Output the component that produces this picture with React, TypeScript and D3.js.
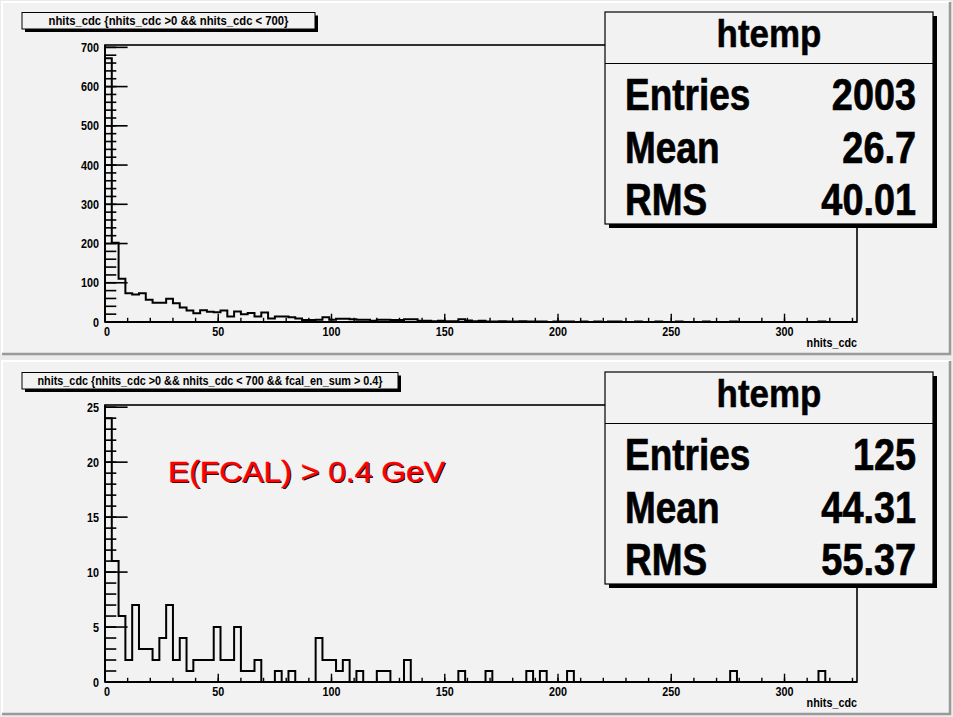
import React from 'react';
import * as d3 from 'd3';

const BIN_WIDTH = 3;
const X_MAX = 332;

// top histogram: nhits_cdc with 0 < nhits_cdc < 700 (bin width 3)
const topCounts = [
  672, 202, 110, 73, 70, 73, 57, 49, 49, 59,
  48, 37, 29, 22, 30, 26, 25, 29, 14, 27,
  20, 23, 14, 24, 9, 14, 14, 12, 9, 5,
  5, 6, 12, 6, 8, 8, 7, 6, 6, 3,
  6, 6, 5, 5, 7, 7, 3, 3, 2, 3,
  2, 2, 7, 4, 2, 3, 1, 1, 2, 1,
  1, 2, 1, 1, 1, 0, 1, 1, 1, 0,
  1, 0, 1, 0, 1, 1, 0, 0, 1, 0,
  0, 1, 0, 0, 1, 0, 0, 0, 1, 0,
  0, 0, 1, 0, 0, 0, 0, 0, 0, 0,
  0, 0, 0, 0, 0, 1, 0, 0, 0, 0,
];

// bottom histogram: same selection with fcal_en_sum > 0.4
const bottomCounts = [
  24, 11, 6, 2, 7, 3, 3, 2, 4, 7,
  2, 4, 1, 2, 2, 2, 5, 2, 2, 5,
  1, 1, 2, 0, 0, 1, 0, 1, 0, 0,
  0, 4, 2, 2, 1, 2, 0, 1, 0, 0,
  1, 1, 0, 0, 2, 0, 0, 0, 0, 0,
  0, 0, 1, 0, 0, 0, 1, 0, 0, 0,
  0, 0, 1, 0, 1, 0, 0, 0, 1, 0,
  0, 0, 0, 0, 0, 0, 0, 0, 0, 0,
  0, 0, 0, 0, 0, 0, 0, 0, 0, 0,
  0, 0, 1, 0, 0, 0, 0, 0, 0, 0,
  0, 0, 0, 0, 0, 1, 0, 0, 0, 0,
];

const xMajorTicks = [0, 50, 100, 150, 200, 250, 300];
const xMinorStep = 10;
const topYTicks = [0, 100, 200, 300, 400, 500, 600, 700];
const topYMinorStep = 20;
const topYMax = 706;
const bottomYTicks = [0, 5, 10, 15, 20, 25];
const bottomYMinorStep = 1;
const bottomYMax = 25.2;

const topTitle = 'nhits_cdc {nhits_cdc >0 && nhits_cdc < 700}';
const bottomTitle = 'nhits_cdc {nhits_cdc >0 && nhits_cdc < 700 && fcal_en_sum > 0.4}';
const xAxisTitle = 'nhits_cdc';
const statsName = 'htemp';
const statLabels = ['Entries', 'Mean', 'RMS'];
const topStatValues = ['2003', '26.7', '40.01'];
const bottomStatValues = ['125', '44.31', '55.37'];
const annotation = 'E(FCAL) > 0.4 GeV';

const FONT = "'Liberation Sans', Arial, Helvetica, sans-serif";

type PanelProps = {
  off: number;
  counts: number[];
  yMax: number;
  yTicks: number[];
  yMinorStep: number;
  title: string;
  titleBoxW: number;
  titleTextLen: number;
  statValues: string[];
  note?: string;
};

function Panel({ off, counts, yMax, yTicks, yMinorStep, title, titleBoxW, titleTextLen, statValues, note }: PanelProps) {
  const fx0 = 105, fx1 = 857, fy0 = 45 + off, fy1 = 322 + off;
  const x = d3.scaleLinear().domain([0, X_MAX]).range([fx0, fx1]);
  const y = d3.scaleLinear().domain([0, yMax]).range([fy1, fy0]);

  const pts: [number, number][] = [[0, 0]];
  counts.forEach((c, i) => {
    pts.push([i * BIN_WIDTH, c]);
    pts.push([Math.min((i + 1) * BIN_WIDTH, X_MAX), c]);
  });
  pts.push([Math.min(counts.length * BIN_WIDTH, X_MAX), 0]);
  pts.push([X_MAX, 0]);
  const line = d3.line<[number, number]>().x(d => x(d[0])).y(d => y(d[1]));

  const yMinor: number[] = [];
  for (let v = 0; v <= yMax + 1e-9; v += yMinorStep) yMinor.push(+v.toFixed(6));
  const xMinor: number[] = [];
  for (let v = 0; v <= X_MAX; v += xMinorStep) xMinor.push(v);

  const yMajLen = 22.6, yMinLen = 11.3, xMajLen = 8.3, xMinLen = 4.2;
  const tb = { x: 22, y: 12.5 + off, h: 16.5 };
  const sb = { x: 605, y: 12 + off, w: 328, h: 212 };
  const rowY = [110, 163.3, 215];
  const lbl = { fontSize: 12, fontWeight: 'bold' as const, fontFamily: FONT };

  return (
    <g>
      {/* frame */}
      <rect x={fx0} y={fy0} width={fx1 - fx0} height={fy1 - fy0} fill="none" stroke="#000" strokeWidth={1.6} />
      {/* histogram */}
      <path d={line(pts) || ''} fill="none" stroke="#000" strokeWidth={2} />
      {/* y axis */}
      <line x1={fx0} x2={fx0} y1={fy0} y2={fy1} stroke="#000" strokeWidth={1.8} />
      {yMinor.map(v => (
        <line key={'ym' + v} x1={fx0} x2={fx0 + yMinLen} y1={y(v)} y2={y(v)} stroke="#000" strokeWidth={1.6} />
      ))}
      {yTicks.map(v => (
        <g key={'yt' + v}>
          <line x1={fx0} x2={fx0 + yMajLen} y1={y(v)} y2={y(v)} stroke="#000" strokeWidth={1.6} />
          <text transform={`translate(${fx0 - 6} ${y(v) + 4.5}) scale(0.9 1)`} textAnchor="end" {...lbl}>{v}</text>
        </g>
      ))}
      {/* x axis */}
      <line x1={fx0} x2={fx1} y1={fy1} y2={fy1} stroke="#000" strokeWidth={1.8} />
      {xMinor.map(v => (
        <line key={'xm' + v} x1={x(v)} x2={x(v)} y1={fy1} y2={fy1 - xMinLen} stroke="#000" strokeWidth={1.4} />
      ))}
      {xMajorTicks.map(v => (
        <g key={'xt' + v}>
          <line x1={x(v)} x2={x(v)} y1={fy1} y2={fy1 - xMajLen} stroke="#000" strokeWidth={1.4} />
          <text transform={`translate(${x(v) + (v === 0 ? 2 : 0)} ${fy1 + 13.5}) scale(0.9 1)`} textAnchor="middle" {...lbl}>{v}</text>
        </g>
      ))}
      <text transform={`translate(${fx1} ${off + 346.5}) scale(0.9 1)`} textAnchor="end" {...lbl}>{xAxisTitle}</text>

      {note && (
        <g fontFamily={FONT} fontSize={30}>
          <text x={169.2} y={481.7 - 360 + off + 1.2} textLength={277} lengthAdjust="spacingAndGlyphs" fill="#000">{note}</text>
          <text x={168} y={481.7 - 360 + off} textLength={277} lengthAdjust="spacingAndGlyphs" fill="#ff0000" stroke="#ff0000" strokeWidth={0.4}>{note}</text>
        </g>
      )}

      {/* title box */}
      <rect x={tb.x + 3} y={tb.y + 3} width={titleBoxW} height={tb.h} fill="#000" />
      <rect x={tb.x} y={tb.y} width={titleBoxW} height={tb.h} fill="#f2f2f2" stroke="#000" strokeWidth={1} />
      <text x={tb.x + titleBoxW / 2} y={tb.y + 12.8} textAnchor="middle" fontSize={12.5} fontWeight="bold" fontFamily={FONT}
        textLength={titleTextLen} lengthAdjust="spacingAndGlyphs">{title}</text>

      {/* stats box */}
      <rect x={sb.x + 4} y={sb.y + 4} width={sb.w} height={sb.h} fill="#000" />
      <rect x={sb.x} y={sb.y} width={sb.w} height={sb.h} fill="#f2f2f2" stroke="#000" strokeWidth={1.2} />
      <line x1={sb.x} x2={sb.x + sb.w} y1={off + 63.5} y2={off + 63.5} stroke="#000" strokeWidth={1.2} />
      <text transform={`translate(769 ${off + 46.5}) scale(0.92 1)`} textAnchor="middle" fontSize={38} fontWeight="bold" fontFamily={FONT}
        stroke="#000" strokeWidth={0.5}>{statsName}</text>
      {statLabels.map((lab, i) => (
        <g key={lab} stroke="#000" strokeWidth={0.7}>
          <text transform={`translate(625 ${off + rowY[i]}) scale(0.84 1)`} fontSize={44} fontWeight="bold" fontFamily={FONT}>{lab}</text>
          <text transform={`translate(916 ${off + rowY[i]}) scale(0.86 1)`} textAnchor="end" fontSize={44} fontWeight="bold" fontFamily={FONT}>{statValues[i]}</text>
        </g>
      ))}
    </g>
  );
}

function Pad({ y0, y1 }: { y0: number; y1: number }) {
  const x0 = 2, x1 = 950;
  return (
    <g>
      <rect x={x0} y={y0} width={x1 - x0} height={y1 - y0} fill="#f2f2f2" />
      <path d={`M${x0},${y1} V${y0} H${x1}`} fill="none" stroke="#ffffff" strokeWidth={2} />
      <path d={`M${x0},${y1} H${x1} V${y0}`} fill="none" stroke="#9a9a9a" strokeWidth={2.5} />
    </g>
  );
}

export default function App() {
  return (
    <svg width={953} height={717} style={{ position: 'absolute', left: 0, top: 0, display: 'block' }}>
      <rect x={0} y={0} width={953} height={717} fill="#ebebeb" />
      <Pad y0={2} y1={354} />
      <Pad y0={361} y1={714} />
      <Panel off={0} counts={topCounts} yMax={topYMax} yTicks={topYTicks} yMinorStep={topYMinorStep}
        title={topTitle} titleBoxW={293} titleTextLen={240} statValues={topStatValues} />
      <Panel off={360} counts={bottomCounts} yMax={bottomYMax} yTicks={bottomYTicks} yMinorStep={bottomYMinorStep}
        title={bottomTitle} titleBoxW={376} titleTextLen={345} statValues={bottomStatValues} note={annotation} />
    </svg>
  );
}
